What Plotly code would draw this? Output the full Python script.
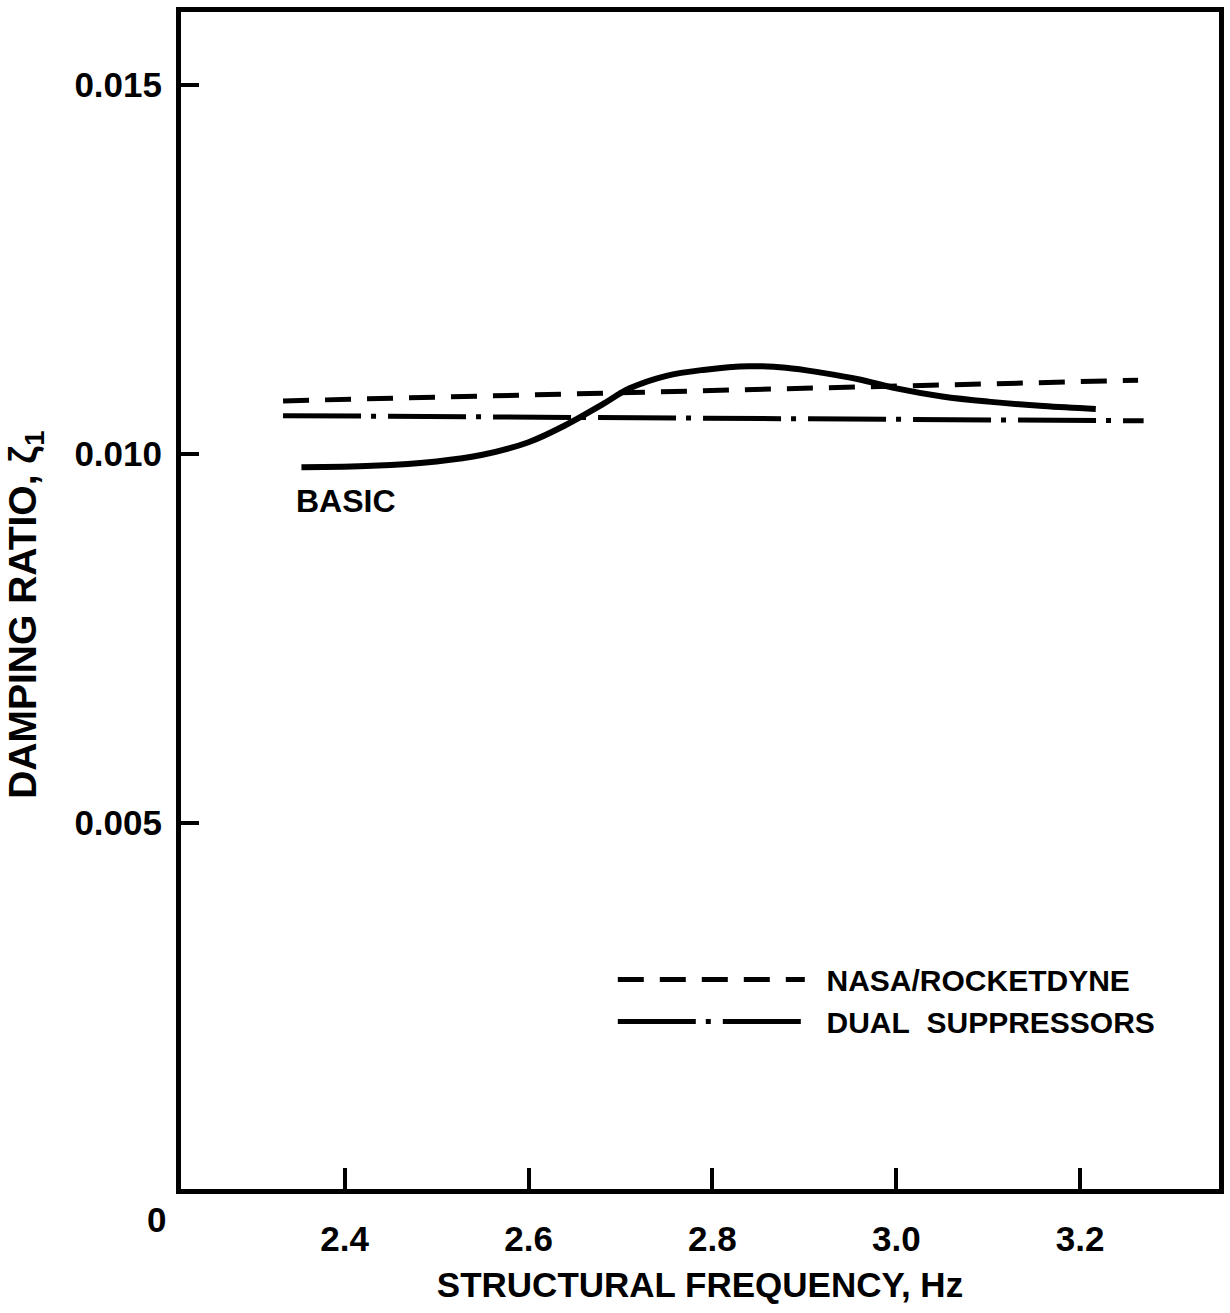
import plotly.graph_objects as go

# Basic configuration: damping ratio versus structural frequency
basic_freq = [2.353, 2.43, 2.50, 2.55, 2.60, 2.64, 2.68, 2.71, 2.75, 2.79,
              2.84, 2.88, 2.92, 2.96, 3.00, 3.05, 3.10, 3.16, 3.217]
basic_zeta = [0.00982, 0.00984, 0.00990, 0.00999, 0.01016, 0.01039, 0.01067, 0.01089,
              0.01106, 0.01114, 0.01119, 0.01117, 0.01110, 0.01101, 0.01089, 0.01078,
              0.01071, 0.01065, 0.01061]

# NASA/Rocketdyne configuration
nasa_freq = [2.333, 3.263]
nasa_zeta = [0.01072, 0.01100]

# Dual suppressors configuration
dual_freq = [2.333, 3.269]
dual_zeta = [0.01052, 0.01045]

x_ticks = [2.4, 2.6, 2.8, 3.0, 3.2]
x_tick_text = ["2.4", "2.6", "2.8", "3.0", "3.2"]
y_ticks = [0.005, 0.010, 0.015]
y_tick_text = ["0.005", "0.010", "0.015"]

FONT = "Liberation Sans, Arial, sans-serif"
NBSP = "\u00a0"

fig = go.Figure()

fig.add_trace(go.Scatter(
    x=basic_freq, y=basic_zeta, mode="lines", name="BASIC",
    line=dict(color="black", width=6, shape="spline", smoothing=1.0),
    showlegend=False,
))
fig.add_trace(go.Scatter(
    x=nasa_freq, y=nasa_zeta, mode="lines",
    name=NBSP * 2 + "<b>NASA/ROCKETDYNE</b>",
    line=dict(color="black", width=5, dash="26px,16px"),
))
fig.add_trace(go.Scatter(
    x=dual_freq, y=dual_zeta, mode="lines",
    name=NBSP * 2 + "<b>DUAL" + NBSP * 2 + "SUPPRESSORS</b>",
    line=dict(color="black", width=5, dash="78px,10px,5px,12px"),
))

axis_common = dict(
    showline=True, linecolor="black", linewidth=5, mirror=True,
    showgrid=False, zeroline=False,
    ticks="inside", tickcolor="black", tickwidth=4,
    tickfont=dict(family=FONT, size=35, color="black"),
)

fig.update_xaxes(
    range=[2.222, 3.351], tickvals=x_ticks, ticktext=[f"<b>{t}</b>" for t in x_tick_text],
    ticklen=21, ticklabelstandoff=15,
    title=dict(text="<b>STRUCTURAL FREQUENCY, Hz</b>",
               font=dict(family=FONT, size=35, color="black"), standoff=17),
    **axis_common,
)
fig.update_yaxes(
    range=[0.00004, 0.01599], tickvals=y_ticks, ticktext=[f"<b>{t}</b>" for t in y_tick_text],
    ticklen=18, ticklabelstandoff=7,
    **axis_common,
)

# Axis title, origin label and curve label
fig.add_annotation(
    text="<b>DAMPING RATIO, ζ<sub>1</sub></b>", textangle=-90,
    xref="paper", yref="paper", x=-0.1495, y=0.4877,
    xanchor="center", yanchor="middle", showarrow=False,
    font=dict(family=FONT, size=39, color="black"),
)
fig.add_annotation(
    text="<b>0</b>", xref="paper", yref="paper", x=-0.024, y=-0.0255,
    xanchor="center", yanchor="middle", showarrow=False,
    font=dict(family=FONT, size=35, color="black"),
)
fig.add_annotation(
    text="<b>BASIC</b>", xref="x", yref="y", x=2.3453, y=0.00936,
    xanchor="left", yanchor="middle", showarrow=False,
    font=dict(family=FONT, size=32, color="black"),
)

fig.update_layout(
    width=1230, height=1313,
    margin=dict(l=181, r=6, t=12, b=124),
    paper_bgcolor="white", plot_bgcolor="white",
    legend=dict(
        x=0.416, y=0.2, xanchor="left", yanchor="top",
        itemwidth=187, bgcolor="rgba(0,0,0,0)",
        font=dict(family=FONT, size=30, color="black"),
    ),
)

fig.write_html("out.html")
